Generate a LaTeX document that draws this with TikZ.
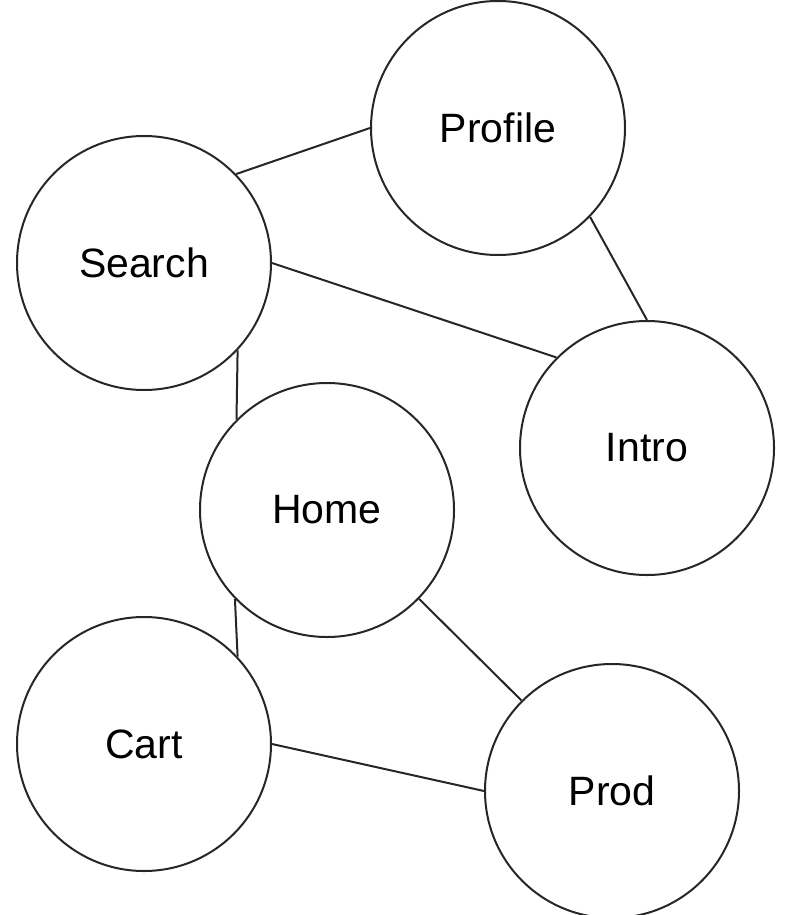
\documentclass[tikz,border=0pt]{standalone}
\usepackage{fontspec}
\setmainfont{Liberation Sans}
\begin{document}
\begin{tikzpicture}[x=1pt,y=-1pt,
  page/.style={circle,draw=black!85,line width=2pt,minimum size=254pt,inner sep=0pt,
    font=\fontsize{41}{49}\selectfont},
  link/.style={draw=black!85,line width=2pt}]
\useasboundingbox (0,0) rectangle (784,915);
\node[page] (Profile) at (498,128) {Profile};
\node[page] (Search) at (144,263) {Search};
\node[page] (Intro) at (647,448) {Intro};
\node[page] (Home) at (327,510) {Home};
\node[page] (Cart) at (144,744) {Cart};
\node[page] (Prod) at (612,791) {Prod};
\draw[link] (Search.44) -- (Profile.west);
\draw[link] (Search.east) -- (Intro.135);
\draw[link] (Profile.-44) -- (Intro.north);
% the two vertical links meet the circles on the line x = 236
\draw[link] (Search.-43.6) -- (Home.135.8);
\draw[link] (Home.224.2) -- (Cart.43.6);
\draw[link] (Home.-44) -- (Prod.135);
\draw[link] (Cart.east) -- (Prod.west);
\end{tikzpicture}
\end{document}
